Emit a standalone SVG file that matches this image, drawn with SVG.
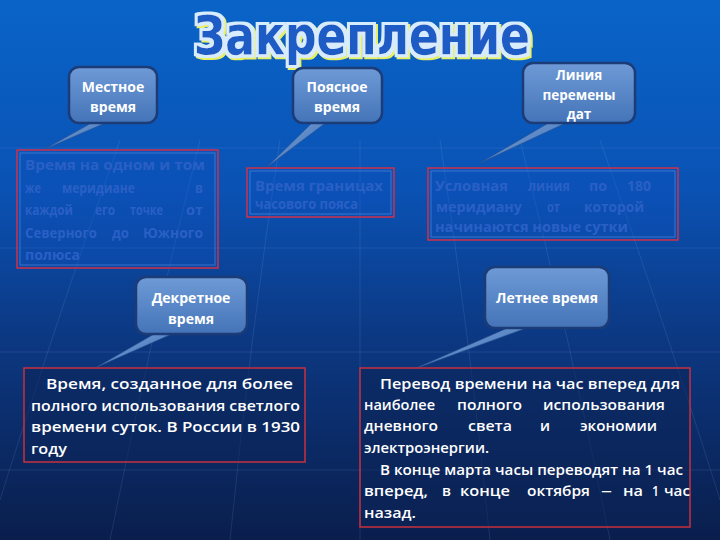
<svg xmlns="http://www.w3.org/2000/svg" width="720" height="540" viewBox="0 0 720 540">
<defs>
  <linearGradient id="bg" x1="0" y1="0" x2="0" y2="1">
    <stop offset="0" stop-color="#0a64c8"/>
    <stop offset="0.35" stop-color="#0a52b4"/>
    <stop offset="0.6" stop-color="#0c3a86"/>
    <stop offset="1" stop-color="#0a1e4c"/>
  </linearGradient>
  <linearGradient id="call" x1="0" y1="0" x2="0" y2="1">
    <stop offset="0" stop-color="#6e9ad6"/>
    <stop offset="1" stop-color="#4474b8"/>
  </linearGradient>
  <linearGradient id="tail" x1="0" y1="0" x2="1" y2="1">
    <stop offset="0" stop-color="#7aa4dc"/>
    <stop offset="1" stop-color="#3d6cb0"/>
  </linearGradient>
  <filter id="titleFx" x="-5%" y="-20%" width="110%" height="140%">
    <feMorphology in="SourceAlpha" operator="dilate" radius="2.5" result="outline"/>
    <feOffset in="outline" dx="2" dy="2" result="off"/>
    <feFlood flood-color="#e8f060" result="yel"/>
    <feComposite in="yel" in2="off" operator="in" result="yellow"/>
    <feFlood flood-color="#d8ecff" result="wht"/>
    <feComposite in="wht" in2="outline" operator="in" result="white"/>
    <feMerge>
      <feMergeNode in="yellow"/>
      <feMergeNode in="white"/>
      <feMergeNode in="SourceGraphic"/>
    </feMerge>
  </filter>
</defs>
<style>
  .grid { stroke: #9cc0ff; stroke-opacity: 0.13; stroke-width: 1; fill: none; }
  .cbox { fill: url(#call); stroke: #1c3c78; stroke-width: 2.5; }
  .tail { fill: url(#tail); stroke: #2a5090; stroke-width: 0.6; }
  .ctext { font-family: "Open Sans", "Liberation Sans", sans-serif; font-weight: bold; font-size: 14px; fill: #ffffff; text-anchor: middle; }
  .topbox { fill: #0d50bc; fill-opacity: 0.35; stroke: #d0304a; stroke-width: 1.5; }
  .inner { fill: none; stroke: #4a86d8; stroke-width: 1; stroke-opacity: 0.7; }
  .hidden { font-family: "Open Sans", "Liberation Sans", sans-serif; font-weight: bold; font-size: 13.5px; fill: #2a60c6; }
  .botbox { fill: #0c2458; fill-opacity: 0.55; stroke: #c8303e; stroke-width: 1.5; }
  .btext { font-family: "Open Sans", "Liberation Sans", sans-serif; font-weight: 600; font-size: 14.5px; fill: #ffffff; }
  .title { font-family: "DejaVu Sans", "Liberation Sans", sans-serif; font-weight: bold; font-size: 54px; fill: #1a5cc4; }
</style>

<rect x="0" y="0" width="720" height="540" fill="url(#bg)"/>

<g id="background-grid">
  <line class="grid" x1="0" y1="148" x2="720" y2="148"/>
  <line class="grid" x1="0" y1="248" x2="720" y2="248"/>
  <line class="grid" x1="0" y1="352" x2="720" y2="352"/>
  <line class="grid" x1="0" y1="470" x2="720" y2="470"/>
  <path class="grid" d="M200 140 Q150 340 110 540"/>
  <path class="grid" d="M280 140 Q250 340 230 540"/>
  <path class="grid" d="M360 140 Q360 340 360 540"/>
  <path class="grid" d="M440 140 Q470 340 490 540"/>
  <path class="grid" d="M520 140 Q570 340 610 540"/>
  <path class="grid" d="M600 140 Q670 340 720 500"/>
  <path class="grid" d="M120 140 Q50 340 0 500"/>
</g>

<g id="title">
  <text class="title" x="362" y="54" textLength="336" lengthAdjust="spacingAndGlyphs" text-anchor="middle" filter="url(#titleFx)">Закрепление</text>
</g>

<g id="connectors">
  <path class="tail" d="M95 121 L110 121 L45 149 Z"/>
  <path class="tail" d="M314 121 L328 121 L267 167 Z"/>
  <path class="tail" d="M552 121 L570 121 L480 163 Z"/>
  <path class="tail" d="M156 333 L174 333 L97 367 Z"/>
  <path class="tail" d="M512 326 L532 326 L414 369 Z"/>
</g>

<g id="node-mestnoe">
  <rect class="cbox" x="69" y="67" width="88" height="56" rx="10"/>
  <text class="ctext" x="113" y="92">Местное</text>
  <text class="ctext" x="113" y="112">время</text>
</g>

<g id="box-mestnoe">
  <rect class="topbox" x="17" y="150" width="201" height="118"/>
  <rect class="inner" x="20" y="153" width="195" height="112"/>
  <text class="hidden" x="25" y="170" textLength="180" lengthAdjust="spacingAndGlyphs">Время на одном и том</text>
  <text class="hidden" x="25" y="193" textLength="16" lengthAdjust="spacingAndGlyphs">же</text>
  <text class="hidden" x="62" y="193" textLength="73" lengthAdjust="spacingAndGlyphs">меридиане</text>
  <text class="hidden" x="195" y="193" textLength="8" lengthAdjust="spacingAndGlyphs">в</text>
  <text class="hidden" x="25" y="215" textLength="48" lengthAdjust="spacingAndGlyphs">каждой</text>
  <text class="hidden" x="95" y="215" textLength="20" lengthAdjust="spacingAndGlyphs">его</text>
  <text class="hidden" x="130" y="215" textLength="33" lengthAdjust="spacingAndGlyphs">точке</text>
  <text class="hidden" x="186" y="215" textLength="17" lengthAdjust="spacingAndGlyphs">от</text>
  <text class="hidden" x="25" y="238" textLength="72" lengthAdjust="spacingAndGlyphs">Северного</text>
  <text class="hidden" x="112" y="238" textLength="17" lengthAdjust="spacingAndGlyphs">до</text>
  <text class="hidden" x="143" y="238" textLength="60" lengthAdjust="spacingAndGlyphs">Южного</text>
  <text class="hidden" x="25" y="260" textLength="55" lengthAdjust="spacingAndGlyphs">полюса</text>
</g>

<g id="node-poyasnoe">
  <rect class="cbox" x="293" y="68" width="89" height="55" rx="10"/>
  <text class="ctext" x="337" y="92">Поясное</text>
  <text class="ctext" x="337" y="112">время</text>
</g>

<g id="box-poyasnoe">
  <rect class="topbox" x="247" y="168" width="147" height="49"/>
  <rect class="inner" x="250" y="171" width="141" height="43"/>
  <text class="hidden" x="255" y="191" textLength="128" lengthAdjust="spacingAndGlyphs">Время границах</text>
  <text class="hidden" x="255" y="209" textLength="103" lengthAdjust="spacingAndGlyphs">часового пояса</text>
</g>

<g id="node-liniya">
  <rect class="cbox" x="523" y="63" width="112" height="60" rx="10"/>
  <text class="ctext" x="579" y="80" style="font-size:13.5px">Линия</text>
  <text class="ctext" x="579" y="100" style="font-size:13.5px">перемены</text>
  <text class="ctext" x="579" y="119" style="font-size:13.5px">дат</text>
</g>

<g id="box-liniya">
  <rect class="topbox" x="428" y="168" width="250" height="72"/>
  <rect class="inner" x="431" y="171" width="244" height="66"/>
  <text class="hidden" x="435" y="191" textLength="73" lengthAdjust="spacingAndGlyphs">Условная</text>
  <text class="hidden" x="528" y="191" textLength="42" lengthAdjust="spacingAndGlyphs">линия</text>
  <text class="hidden" x="589" y="191" textLength="18" lengthAdjust="spacingAndGlyphs">по</text>
  <text class="hidden" x="627" y="191" textLength="24" lengthAdjust="spacingAndGlyphs">180</text>
  <text class="hidden" x="436" y="212" textLength="86" lengthAdjust="spacingAndGlyphs">меридиану</text>
  <text class="hidden" x="547" y="212" textLength="13" lengthAdjust="spacingAndGlyphs">от</text>
  <text class="hidden" x="584" y="212" textLength="60" lengthAdjust="spacingAndGlyphs">которой</text>
  <text class="hidden" x="435" y="232" textLength="193" lengthAdjust="spacingAndGlyphs">начинаются новые сутки</text>
</g>

<g id="node-dekretnoe">
  <rect class="cbox" x="136" y="277" width="111" height="57" rx="10"/>
  <text class="ctext" x="191" y="303">Декретное</text>
  <text class="ctext" x="191" y="324">время</text>
</g>

<g id="box-dekretnoe">
  <rect class="botbox" x="24" y="368" width="281" height="94"/>
  <text class="btext" x="46" y="389" textLength="247" lengthAdjust="spacingAndGlyphs">Время, созданное для более</text>
  <text class="btext" x="31" y="411" textLength="269" lengthAdjust="spacingAndGlyphs">полного использования светлого</text>
  <text class="btext" x="31" y="432" textLength="269" lengthAdjust="spacingAndGlyphs">времени суток. В России в 1930</text>
  <text class="btext" x="31" y="454" textLength="36" lengthAdjust="spacingAndGlyphs">году</text>
</g>

<g id="node-letnee">
  <rect class="cbox" x="485" y="267" width="124" height="61" rx="10"/>
  <text class="ctext" x="547" y="303">Летнее время</text>
</g>

<g id="box-letnee">
  <rect class="botbox" x="360" y="368" width="330" height="159"/>
  <text class="btext" x="380" y="389" textLength="300" lengthAdjust="spacingAndGlyphs">Перевод времени на час вперед для</text>
  <text class="btext" x="364" y="410" textLength="71" lengthAdjust="spacingAndGlyphs">наиболее</text>
  <text class="btext" x="457" y="410" textLength="65" lengthAdjust="spacingAndGlyphs">полного</text>
  <text class="btext" x="543" y="410" textLength="122" lengthAdjust="spacingAndGlyphs">использования</text>
  <text class="btext" x="364" y="431" textLength="74" lengthAdjust="spacingAndGlyphs">дневного</text>
  <text class="btext" x="468" y="431" textLength="44" lengthAdjust="spacingAndGlyphs">света</text>
  <text class="btext" x="540" y="431" textLength="10" lengthAdjust="spacingAndGlyphs">и</text>
  <text class="btext" x="580" y="431" textLength="77" lengthAdjust="spacingAndGlyphs">экономии</text>
  <text class="btext" x="364" y="453" textLength="125" lengthAdjust="spacingAndGlyphs">электроэнергии.</text>
  <text class="btext" x="380" y="475" textLength="303" lengthAdjust="spacingAndGlyphs">В конце марта часы переводят на 1 час</text>
  <text class="btext" x="364" y="496" textLength="64" lengthAdjust="spacingAndGlyphs">вперед,</text>
  <text class="btext" x="442" y="496" textLength="9" lengthAdjust="spacingAndGlyphs">в</text>
  <text class="btext" x="460" y="496" textLength="50" lengthAdjust="spacingAndGlyphs">конце</text>
  <text class="btext" x="527" y="496" textLength="63" lengthAdjust="spacingAndGlyphs">октября</text>
  <text class="btext" x="601" y="496" textLength="11" lengthAdjust="spacingAndGlyphs">–</text>
  <text class="btext" x="623" y="496" textLength="20" lengthAdjust="spacingAndGlyphs">на</text>
  <text class="btext" x="652" y="496" textLength="7" lengthAdjust="spacingAndGlyphs">1</text>
  <text class="btext" x="664" y="496" textLength="26" lengthAdjust="spacingAndGlyphs">час</text>
  <text class="btext" x="364" y="518" textLength="52" lengthAdjust="spacingAndGlyphs">назад.</text>
</g>
</svg>
